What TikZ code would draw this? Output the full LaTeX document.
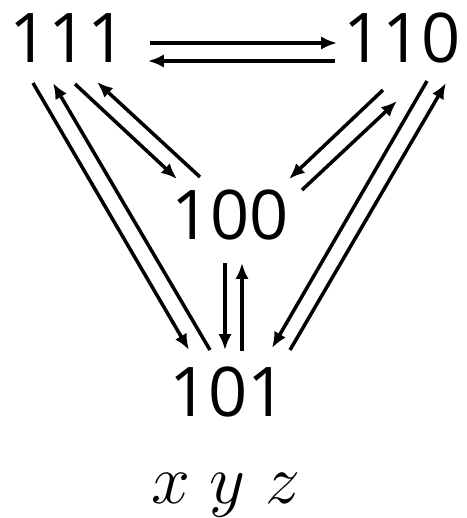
\documentclass[tikz,border=0pt]{standalone}
\usepackage{fontspec}
\setmainfont{Open Sans}
\usetikzlibrary{arrows.meta}

\begin{document}
\begin{tikzpicture}[x=0.02cm,y=-0.02cm,
  state/.style={font=\fontsize{39}{47}\selectfont,inner sep=0pt},
  link/.style={-{Latex[length=9pt,width=7.5pt]},line width=2pt}]
  \useasboundingbox (0,0) rectangle (467,518);

  \node[state] (n111) at (68,38) {111};
  \node[state] (n110) at (402,38) {110};
  \node[state] (n100) at (230,215) {100};
  \node[state] (n101) at (228,392) {101};
  \node[inner sep=0pt,anchor=base,font=\Huge,scale=1.6]
    (vars) at (226,503) {$x\;y\;z$};

  % top pair
  \draw[link] ([shift={(82,5)}]n111.center) -- ([shift={(-65,5)}]n110.center);
  \draw[link] ([shift={(-67,23)}]n110.center) -- ([shift={(80,23)}]n111.center);

  % left side
  \draw[link] ([shift={(-35,45)}]n111.center) -- ([shift={(-39,-42)}]n101.center);
  \draw[link] ([shift={(-18,-42)}]n101.center) -- ([shift={(-15,45)}]n111.center);
  \draw[link] ([shift={(7,46)}]n111.center) -- ([shift={(-53,-36)}]n100.center);
  \draw[link] ([shift={(-30,-38)}]n100.center) -- ([shift={(29,44)}]n111.center);

  % right side
  \draw[link] ([shift={(-19,52)}]n110.center) -- ([shift={(59,-36)}]n100.center);
  \draw[link] ([shift={(72,-25)}]n100.center) -- ([shift={(-5,63)}]n110.center);
  \draw[link] ([shift={(25,43)}]n110.center) -- ([shift={(44,-44)}]n101.center);
  \draw[link] ([shift={(62,-42)}]n101.center) -- ([shift={(44,45)}]n110.center);

  % middle pair
  \draw[link] ([shift={(-5,48)}]n100.center) -- ([shift={(-3,-42)}]n101.center);
  \draw[link] ([shift={(14,-41)}]n101.center) -- ([shift={(12,48)}]n100.center);
\end{tikzpicture}
\end{document}
